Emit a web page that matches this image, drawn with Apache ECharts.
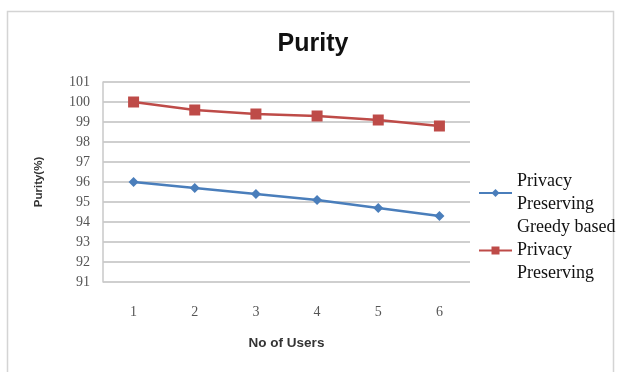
<!DOCTYPE html>
<html><head><meta charset="utf-8">
<script src="https://cdn.jsdelivr.net/npm/echarts@6/dist/echarts.min.js"></script>
<style>html,body{margin:0;padding:0;background:#fff}#c{width:619px;height:372px}</style>
</head><body><div id="c"></div>
<script>
var categories = ['1','2','3','4','5','6'];
var seriesNames = ['Privacy\nPreserving', 'Greedy based\nPrivacy\nPreserving'];
var privacyPreserving = [96, 95.7, 95.4, 95.1, 94.7, 94.3];
var greedyPrivacyPreserving = [100, 99.6, 99.4, 99.3, 99.1, 98.8];
var yMin = 91, yMax = 101, yInterval = 1;

var chart = echarts.init(document.getElementById('c'));
chart.setOption({
  animation: false,
  backgroundColor: '#fff',
  graphic: [{type:'rect', shape:{x:7.5,y:11.5,width:606,height:370}, style:{fill:'none', stroke:'#d4d4d4', lineWidth:1.5}, silent:true}],
  title: {text:'Purity', left:308, top:27, textAlign:'center',
    textStyle:{fontFamily:'Liberation Sans', fontSize:25, fontWeight:'bold', color:'#111'}},
  grid: {left:103, right:149, top:82, bottom:90},
  legend: {orient:'vertical', left:478, top:170, padding:0, itemGap:0, itemWidth:33, itemHeight:10,
    data: seriesNames,
    textStyle:{fontFamily:'Liberation Serif', fontSize:18, color:'#111', lineHeight:23, padding:[0,0,0,0]}},
  xAxis: {type:'category', data:categories, boundaryGap:true,
    name:'No of Users', nameLocation:'middle', nameGap:54,
    nameTextStyle:{fontFamily:'Liberation Sans', fontSize:13.5, fontWeight:'bold', color:'#333'},
    axisLine:{show:false}, axisTick:{show:false},
    axisLabel:{fontFamily:'Liberation Serif', fontSize:14, color:'#555', margin:23}},
  yAxis: {type:'value', min:yMin, max:yMax, interval:yInterval,
    name:'Purity(%)', nameLocation:'middle', nameGap:58, nameRotate:90,
    nameTextStyle:{fontFamily:'Liberation Sans', fontSize:11.5, fontWeight:'bold', color:'#333'},
    axisLine:{show:true, lineStyle:{color:'#c8c8c8', width:1.5}}, axisTick:{show:false},
    axisLabel:{fontFamily:'Liberation Serif', fontSize:14, color:'#555', margin:13},
    splitLine:{lineStyle:{color:'#cfcfcf', width:2}}},
  series: [
    {name:seriesNames[0], type:'line', data:privacyPreserving, symbol:'diamond', symbolSize:10,
      itemStyle:{color:'#4a7ebb'}, lineStyle:{color:'#4a7ebb', width:2.5}},
    {name:seriesNames[1], type:'line', data:greedyPrivacyPreserving, symbol:'rect', symbolSize:11,
      itemStyle:{color:'#be4b48'}, lineStyle:{color:'#be4b48', width:2.5}}
  ]
});
</script></body></html>
